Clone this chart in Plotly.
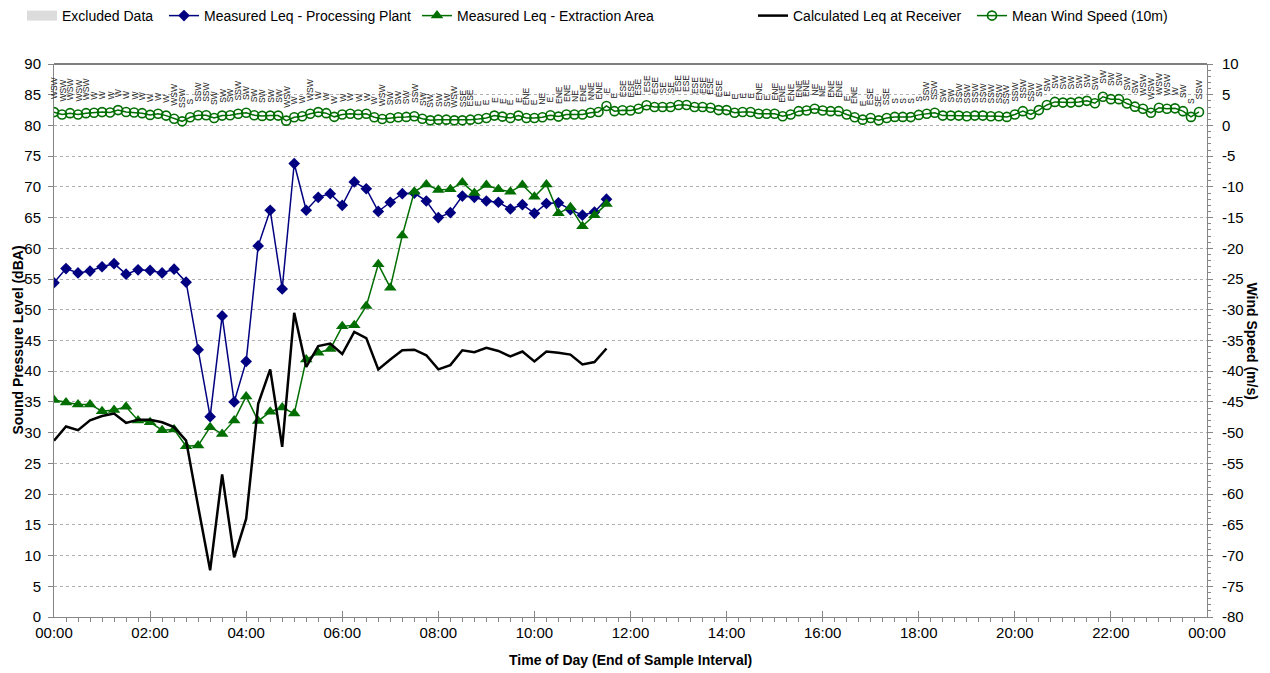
import plotly.graph_objects as go

# ---------------- data ----------------
# 15-minute Leq results (time = end of sample interval), 00:00 .. 11:30
leq_times = ["%02d:%02d" % divmod(m, 60) for m in range(0, 11 * 60 + 31, 15)]

leq_processing = [54.4, 56.7, 56.0, 56.3, 57.0, 57.5, 55.8, 56.5, 56.4, 56.0, 56.6, 54.5,
                  43.5, 32.6, 49.0, 35.0, 41.6, 60.4, 66.2, 53.4, 73.8, 66.2, 68.3,
                  68.9, 67.0, 70.8, 69.7, 66.0, 67.5, 68.9, 69.0, 67.7, 65.0, 65.8, 68.5,
                  68.3, 67.7, 67.5, 66.4, 67.1, 65.7, 67.3, 67.4, 66.3, 65.4, 65.9, 68.0]

leq_extraction = [35.3, 34.9, 34.6, 34.6, 33.5, 33.7, 34.2, 32.0, 31.7, 30.4, 30.5, 27.8,
                  27.9, 30.9, 29.8, 32.0, 35.9, 31.9, 33.4, 34.1, 33.1, 41.9, 43.0,
                  43.6, 47.3, 47.5, 50.6, 57.4, 53.6, 62.1, 69.2, 70.4, 69.5, 69.6, 70.7,
                  69.0, 70.3, 69.6, 69.2, 70.3, 68.4, 70.4, 65.7, 66.7, 63.6, 65.4, 67.2]

leq_calculated = [28.7, 31.0, 30.4, 32.0, 32.7, 33.1, 31.6, 32.1, 32.1, 31.7, 30.9, 28.7,
                  18.0, 7.6, 23.2, 9.7, 16.0, 34.7, 40.3, 27.7, 49.5, 40.7, 44.1,
                  44.5, 42.8, 46.4, 45.4, 40.3, 41.9, 43.4, 43.5, 42.6, 40.3, 41.0, 43.4,
                  43.1, 43.8, 43.3, 42.4, 43.2, 41.6, 43.2, 43.0, 42.7, 41.1, 41.5, 43.7]

# 10-minute wind data, 00:00 .. 23:50
wind_times = ["%02d:%02d" % divmod(m, 60) for m in range(0, 24 * 60, 10)]

wind_speed = [2.17, 1.78, 2.0, 1.78, 2.0, 2.06, 2.17, 2.1, 2.5, 2.2, 2.1, 2.0,
              1.72, 1.9, 1.6, 1.1, 0.67, 1.33, 1.67, 1.67, 1.22, 1.6, 1.67, 1.9,
              2.06, 1.67, 1.55, 1.6, 1.6, 0.78, 1.33, 1.5, 1.9, 2.17, 2.0, 1.4,
              1.78, 1.9, 1.78, 1.9, 1.33, 1.05, 1.22, 1.33, 1.39, 1.5, 1.1, 0.83,
              0.94, 0.94, 0.83, 0.83, 0.94, 1.05, 1.22, 1.6, 1.44, 1.22, 1.6, 1.22,
              1.22, 1.33, 1.67, 1.44, 1.78, 1.78, 1.78, 2.06, 2.2, 3.17, 2.33, 2.47,
              2.44, 2.72, 3.28, 3.0, 3.0, 3.0, 3.33, 3.33, 3.0, 3.0, 2.89, 2.5,
              2.5, 2.06, 2.2, 2.2, 1.9, 1.9, 1.9, 1.5, 1.78, 2.33, 2.44, 2.72,
              2.44, 2.33, 2.33, 1.78, 1.33, 0.94, 1.22, 0.83, 1.22, 1.39, 1.39, 1.36,
              1.72, 1.9, 2.06, 1.6, 1.6, 1.6, 1.5, 1.6, 1.6, 1.5, 1.5, 1.39,
              1.78, 2.33, 1.78, 2.5, 3.33, 3.83, 3.72, 3.72, 3.83, 4.0, 3.61, 4.67,
              4.28, 4.28, 3.56, 3.06, 2.72, 2.06, 2.89, 2.72, 2.78, 2.33, 1.39, 2.2]

wind_dir = (["WSW"] * 5 + ["W"] * 10 +
            ["WSW", "SSW", "S", "SSW", "SSW", "SW", "SW", "SW", "SSW", "SW", "SW", "SW", "SW", "SW",
             "WSW", "W", "W", "WSW", "W", "W", "W", "W", "W", "W", "W", "W",
             "WSW", "SW", "SW", "SW", "SSW", "SW", "SW", "SW", "SW", "WSW", "SSE", "ESE",
             "E", "E", "E", "E", "E", "E", "ENE", "E", "NE", "E", "ENE", "ENE", "NE", "ENE",
             "NNE", "ENE", "E", "E", "ESE", "ESE", "ESE", "ESE", "ESE", "SE", "SE", "ESE",
             "ESE", "ESE", "ESE", "ESE", "ESE", "E", "E", "E", "E", "ENE", "E", "ENE", "ENE",
             "ENE", "ENE", "ENE", "NE", "NE", "ENE", "ENE", "E", "ENE", "E", "ESE", "SE", "SSE",
             "S", "S", "S", "S", "SSW", "SSW", "SW", "SW"] +
            ["SSW"] * 10 + ["SW"] * 13 + ["WSW"] * 4 + ["W", "SW", "S", "SSW"])

x_ticks = list(range(0, 25, 2))
x_ticktext = ["%02d:00" % (h % 24) for h in x_ticks]
y2_ticks = list(range(-80, 11, 5))
y2_ticktext = [str(v) for v in y2_ticks]   # plain hyphen minus, as in the original


def to_hours(t):
    h, m = t.split(":")
    return int(h) + int(m) / 60.0


leq_x = [to_hours(t) for t in leq_times]
wind_x = [to_hours(t) for t in wind_times]

# ---------------- styling ----------------
NAVY = "#000080"
GREEN = "#006e00"
AXIS = "#868686"
FONT = "Liberation Sans, Arial, sans-serif"

W, H = 1270, 673
ML, MR, MT, MB = 54, 63, 64, 56
PW, PH = W - ML - MR, H - MT - MB

fig = go.Figure()

fig.add_trace(go.Scatter(x=[None], y=[None], mode="lines", name="Excluded Data",
                         legend="legend",
                         line=dict(color="#dcdcdc", width=16)))
fig.add_trace(go.Scatter(x=leq_x, y=leq_processing, mode="lines+markers",
                         name="Measured Leq - Processing Plant", legend="legend2",
                         line=dict(color=NAVY, width=1.5),
                         marker=dict(symbol="diamond", size=9, color=NAVY)))
fig.add_trace(go.Scatter(x=leq_x, y=leq_extraction, mode="lines+markers",
                         name="Measured Leq - Extraction Area", legend="legend3",
                         line=dict(color=GREEN, width=1.5),
                         marker=dict(symbol="triangle-up", size=11, color=GREEN)))
fig.add_trace(go.Scatter(x=leq_x, y=leq_calculated, mode="lines",
                         name="Calculated Leq at Receiver", legend="legend4",
                         line=dict(color="black", width=2.5)))
fig.add_trace(go.Scatter(x=wind_x, y=wind_speed, mode="lines+markers", yaxis="y2",
                         name="Mean Wind Speed (10m)", legend="legend5",
                         line=dict(color=GREEN, width=1.5),
                         marker=dict(symbol="circle-open", size=9, color=GREEN,
                                     line=dict(width=1.6))))

annotations = []
for x, w, d in zip(wind_x, wind_speed, wind_dir):
    annotations.append(dict(x=x, y=w, xref="x", yref="y2", text=d, showarrow=False,
                            textangle=-90, xanchor="center", yanchor="bottom", yshift=11,
                            font=dict(family=FONT, size=8.5, color="#222222")))

annotations += [
    dict(x=0.5, y=0, xref="paper", yref="paper", yanchor="top", yshift=-33,
         text="<b>Time of Day (End of Sample Interval)</b>", showarrow=False,
         font=dict(family=FONT, size=14, color="black")),
    dict(x=0, y=0.5, xref="paper", yref="paper", xanchor="center", xshift=-37,
         text="<b>Sound Pressure Level (dBA)</b>", showarrow=False, textangle=-90,
         font=dict(family=FONT, size=14, color="black")),
    dict(x=1, y=0.5, xref="paper", yref="paper", xanchor="center", xshift=45,
         text="<b>Wind Speed (m/s)</b>", showarrow=False, textangle=90,
         font=dict(family=FONT, size=14, color="black")),
]


def legend_at(px):
    return dict(orientation="h", x=(px - ML) / PW, xanchor="left",
                y=1 + MT / PH, yanchor="top",
                font=dict(family=FONT, size=14, color="black"),
                bgcolor="rgba(0,0,0,0)")


fig.update_layout(
    width=W, height=H,
    margin=dict(l=ML, r=MR, t=MT, b=MB, autoexpand=False),
    paper_bgcolor="white", plot_bgcolor="white",
    font=dict(family=FONT, size=15, color="black"),
    showlegend=True,
    legend=legend_at(22),
    legend2=legend_at(164),
    legend3=legend_at(417),
    legend4=legend_at(753),
    legend5=legend_at(972),
    xaxis=dict(range=[0, 24], tickmode="array", tickvals=x_ticks, ticktext=x_ticktext,
               ticks="inside", ticklen=6, tickcolor=AXIS, showline=True, linecolor=AXIS,
               showgrid=False, zeroline=False,
               minor=dict(tickmode="linear", tick0=0, dtick=0.25, ticks="outside",
                          ticklen=4, tickcolor=AXIS),
               tickfont=dict(size=15), ticklabelstandoff=2),
    yaxis=dict(range=[0, 90], tickmode="linear", tick0=0, dtick=5, ticks="outside",
               ticklen=5, tickcolor=AXIS, showline=True, linecolor=AXIS,
               showgrid=True, gridcolor="#b0b0b0", griddash="dot", gridwidth=1,
               zeroline=False, tickfont=dict(size=15), ticklabelstandoff=4),
    yaxis2=dict(range=[-80, 10], overlaying="y", side="right", tickmode="array",
                tickvals=y2_ticks, ticktext=y2_ticktext, ticks="outside", ticklen=5,
                tickcolor=AXIS, showline=True, linecolor=AXIS, showgrid=False,
                zeroline=False,
                minor=dict(tickmode="linear", tick0=-80, dtick=1, ticks="outside",
                           ticklen=3, tickcolor=AXIS),
                tickfont=dict(size=15), ticklabelstandoff=6),
    annotations=annotations,
    shapes=[dict(type="line", xref="paper", yref="paper", x0=0, x1=1, y0=1, y1=1,
                 line=dict(color="#555555", width=1.5))],
)

fig.write_html("out.html", config={"displayModeBar": False},
               post_script="document.body.style.margin='0';document.body.style.overflow='hidden';")
